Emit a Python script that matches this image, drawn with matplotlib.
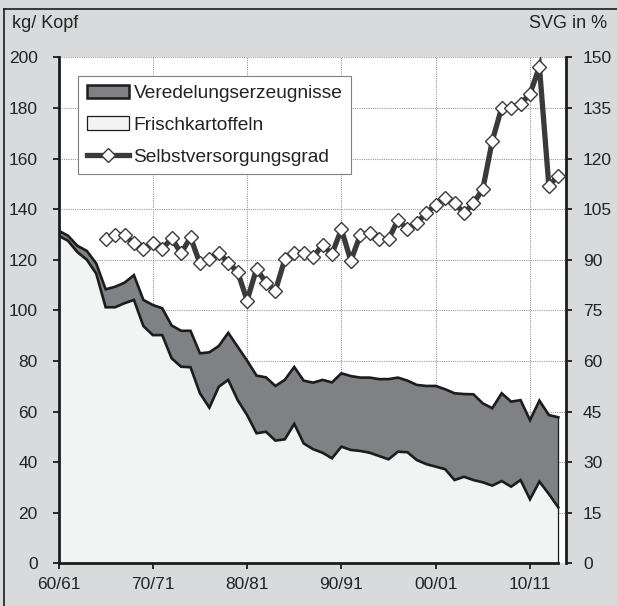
import numpy as np
import matplotlib
matplotlib.use("Agg")
import matplotlib.pyplot as plt
from matplotlib.patches import Patch
from matplotlib.lines import Line2D

plt.rcParams['font.family'] = ['Liberation Sans', 'DejaVu Sans']

# Wirtschaftsjahre 1960/61 .. 2013/14 (index 0..53)
season_index = np.arange(54)
tick_positions = [0, 10, 20, 30, 40, 50]
tick_labels = ["60/61", "70/71", "80/81", "90/91", "00/01", "10/11"]

frischkartoffeln = [129.5, 127.5, 123.0, 120.0, 114.5, 101.2, 101.2, 102.8, 104.1, 93.8,
                    90.2, 90.2, 81.0, 77.7, 77.5, 67.2, 61.5, 69.8, 72.5, 64.5,
                    58.6, 51.4, 52.0, 48.5, 49.0, 55.1, 47.4, 45.1, 43.7, 41.5,
                    46.1, 44.8, 44.4, 43.7, 42.4, 41.1, 44.1, 43.9, 40.8, 39.2,
                    38.2, 37.2, 32.9, 34.2, 32.9, 32.0, 30.7, 32.5, 30.3, 32.9,
                    25.3, 32.3, 27.4, 22.1]

veredelungserzeugnisse = [2.0, 2.0, 2.5, 3.5, 4.0, 7.1, 8.1, 8.1, 9.8, 10.3,
                          11.9, 10.6, 13.0, 14.2, 14.4, 15.8, 21.9, 16.1, 18.6, 21.1,
                          21.5, 22.8, 21.5, 21.6, 23.5, 22.5, 24.8, 26.3, 28.8, 30.0,
                          29.0, 29.2, 29.0, 29.7, 30.4, 31.7, 29.3, 28.3, 29.7, 30.9,
                          31.9, 31.6, 34.3, 32.7, 33.9, 31.2, 30.6, 34.7, 33.6, 31.6,
                          31.3, 32.0, 31.2, 35.6]

svg_start = 5  # Selbstversorgungsgrad ab 1965/66
selbstversorgungsgrad = [96.1, 97.3, 97.3, 94.9, 93.1, 94.9, 93.1, 96.4, 91.9, 96.6,
                         88.9, 90.1, 92.1, 89.1, 86.4, 77.9, 87.3, 83.2, 80.8, 90.1,
                         91.9, 92.1, 90.7, 94.4, 91.7, 99.0, 89.7, 97.3, 98.0, 96.1,
                         96.1, 101.8, 99.0, 100.8, 103.9, 106.2, 108.2, 106.9, 103.8, 106.7,
                         111.0, 125.2, 135.1, 135.1, 136.2, 139.1, 147.2, 111.9, 114.9]

left_ticks = list(range(0, 201, 20))
right_ticks = list(range(0, 151, 15))

x = season_index
fresh = np.array(frischkartoffeln)
total = fresh + np.array(veredelungserzeugnisse)
svg_x = np.arange(svg_start, svg_start + len(selbstversorgungsgrad))
svg = np.array(selbstversorgungsgrad)

BG = "#d9dadb"
LIGHT = "#f2f3f3"
DARK = "#808184"
EDGE = "#1c1c1c"
LINE = "#3a3a3a"
TXT = "#222222"

fig = plt.figure(figsize=(6.17, 6.06), dpi=100, facecolor=BG)
W, H = 617, 606
ax_left, ax_right, ax_top, ax_bottom = 58.5, 566.3, 57.3, 563.3
ax = fig.add_axes([ax_left / W, 1 - ax_bottom / H, (ax_right - ax_left) / W, (ax_bottom - ax_top) / H])
ax.set_facecolor("white")

# stacked areas
ax.fill_between(x, 0, fresh, facecolor=LIGHT, edgecolor="none", zorder=2)
ax.fill_between(x, fresh, total, facecolor=DARK, edgecolor="none", zorder=2)
ax.plot(x, fresh, color=EDGE, lw=1.9, zorder=3, solid_joinstyle="miter")
ax.plot(x, total, color=EDGE, lw=1.9, zorder=3, solid_joinstyle="miter")
ax.plot([x[-1], x[-1]], [0, total[-1]], color=EDGE, lw=0.9, zorder=3)

ax.set_xlim(0, 53.85)
ax.set_ylim(0, 200)
ax.set_xticks(tick_positions)
ax.set_xticklabels(tick_labels)
ax.set_yticks(left_ticks)

ax.grid(True, color="#9a9a9a", linestyle=(0, (1, 1)), linewidth=0.8, zorder=1)
ax.set_axisbelow(True)

for s in ["top", "right"]:
    ax.spines[s].set_visible(False)
ax.spines["left"].set_linewidth(2.0)
ax.spines["left"].set_color(EDGE)
ax.spines["bottom"].set_linewidth(2.0)
ax.spines["bottom"].set_color(EDGE)
ax.spines["bottom"].set_bounds(0, 53)
ax.tick_params(axis="both", direction="out", length=4, width=1.3, colors=EDGE,
               labelcolor=TXT, labelsize=12.5)
ax.tick_params(axis="y", pad=11)
ax.tick_params(axis="x", pad=6)

# right axis
ax2 = ax.twinx()
ax2.set_ylim(0, 150)
ax2.set_yticks(right_ticks)
for s in ["top", "left", "bottom"]:
    ax2.spines[s].set_visible(False)
ax2.spines["right"].set_linewidth(2.0)
ax2.spines["right"].set_color(EDGE)
ax2.tick_params(axis="y", direction="out", length=4, width=1.3, colors=EDGE,
                labelcolor=TXT, labelsize=12.5, pad=8)
ax2.plot(svg_x, svg, color=LINE, lw=3.8, marker="D", markersize=6.8,
         markerfacecolor="white", markeredgecolor=LINE, markeredgewidth=1.0,
         zorder=4, solid_joinstyle="miter")

handles = [
    Patch(facecolor=DARK, edgecolor=EDGE, linewidth=1.8, label="Veredelungserzeugnisse"),
    Patch(facecolor=LIGHT, edgecolor=EDGE, linewidth=0.9, label="Frischkartoffeln"),
    Line2D([0], [0], color=LINE, lw=3.8, marker="D", markersize=6.8,
           markerfacecolor="white", markeredgecolor=LINE, markeredgewidth=1.0,
           label="Selbstversorgungsgrad"),
]
leg = ax2.legend(handles=handles, loc="upper left", bbox_to_anchor=(0.0384, 0.963),
                 borderaxespad=0, frameon=True, fancybox=False, framealpha=1,
                 edgecolor="#7f7f7f", fontsize=13.8, handlelength=2.2, handleheight=0.7,
                 handletextpad=0.25, labelspacing=0.75, borderpad=0.45, numpoints=1)
leg.get_frame().set_linewidth(0.8)
for t in leg.get_texts():
    t.set_color(TXT)

fig.text(12 / W, 1 - 24 / H, "kg/ Kopf", ha="left", va="center", fontsize=13, color=TXT)
fig.text(607 / W, 1 - 24 / H, "SVG in %", ha="right", va="center", fontsize=13, color=TXT)

# outer frame (left and top)
fig.add_artist(Line2D([4 / W, 4 / W], [0, 1 - 9 / H], color=EDGE, lw=1.2, transform=fig.transFigure))
fig.add_artist(Line2D([4 / W, 1], [1 - 9 / H, 1 - 9 / H], color=EDGE, lw=1.2, transform=fig.transFigure))

fig.savefig("out.png", dpi=100, facecolor=BG)
